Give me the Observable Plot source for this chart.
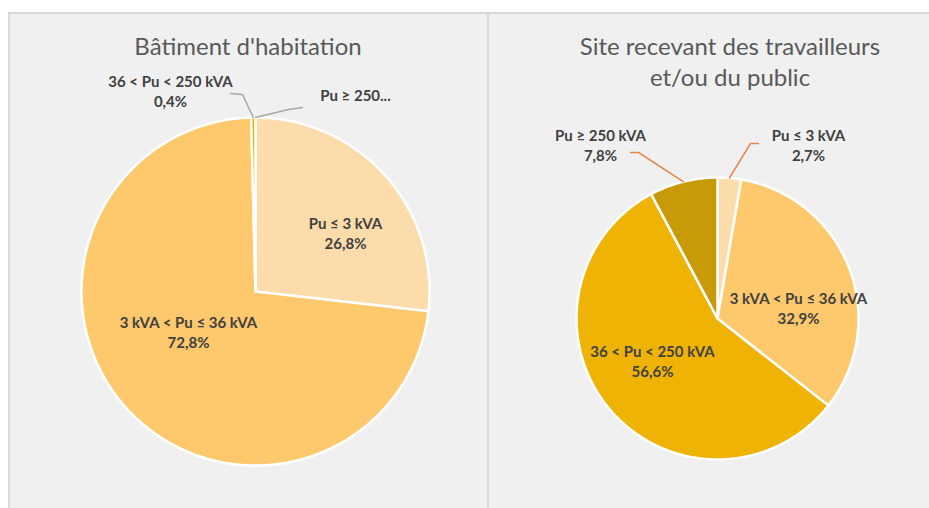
<!DOCTYPE html>
<html><head><meta charset="utf-8">
<script src="https://cdn.jsdelivr.net/npm/d3@7"></script>
<script src="https://cdn.jsdelivr.net/npm/@observablehq/plot@0.6"></script>
<style>
body{margin:0;background:#fff;width:929px;height:508px;overflow:hidden;position:relative;font-family:Lato,sans-serif}
.panel{position:absolute;top:12px;height:520px;background:#f0f0f0;border:2px solid #d9d9d9;box-sizing:border-box}
.title{position:absolute;text-align:center;color:#595959;font-size:24px;line-height:31px;white-space:nowrap;transform:translateX(-50%)}
#chart{position:absolute;left:0;top:0}
</style></head><body>
<div class="panel" style="left:8px;width:481px"></div>
<div class="panel" style="left:487px;width:480px"></div>
<div class="title" style="left:248px;top:30px">Bâtiment d'habitation</div>
<div class="title" style="left:730px;top:30px">Site recevant des travailleurs<br>et/ou du public</div>
<div id="chart"></div>
<script>
// ---- data ----
const categories = ["Pu ≤ 3 kVA", "3 kVA < Pu ≤ 36 kVA", "36 < Pu < 250 kVA", "Pu ≥ 250 kVA"];
const colors = ["#fddcab", "#fec86c", "#eeb305", "#c89a08"];
const habitationValues = [26.8, 72.8, 0.4, 0.0];
const travailleursValues = [2.7, 32.9, 56.6, 7.8];
const habitationLabels = ["Pu ≤ 3 kVA\n26,8%", "3 kVA < Pu ≤ 36 kVA\n72,8%", "36 < Pu < 250 kVA\n0,4%", "Pu ≥ 250..."];
const travailleursLabels = ["Pu ≤ 3 kVA\n2,7%", "3 kVA < Pu ≤ 36 kVA\n32,9%", "36 < Pu < 250 kVA\n56,6%", "Pu ≥ 250 kVA\n7,8%"];

// ---- layout ----
const W = 929, H = 508;
const pies = [
  {name: "hab", values: habitationValues, labels: habitationLabels, cx: 255, cy: 291, r: 174,
   labelPos: [[345, 232], [188, 331], [170, 90], [355, 94]],
   leaders: [null, null, [[242, 94], [230, 93]], [[288, 109], [302, 107]]],
   leaderColor: "#a6a6a6"},
  {name: "trav", values: travailleursValues, labels: travailleursLabels, cx: 717, cy: 318, r: 141,
   labelPos: [[808, 144], [798, 307], [652, 360], [600, 144]],
   leaders: [[[750, 143], [758, 143]], null, null, [[638, 152], [630, 152]]],
   leaderColor: "#e5884d"}
];

const wedges = [], leaderPts = [], texts = [];
for (const p of pies) {
  let cum = 0;
  p.values.forEach((v, i) => {
    const a0 = cum / 100 * 2 * Math.PI;
    cum += v;
    const a1 = cum / 100 * 2 * Math.PI;
    const key = p.name + i;
    const pt = a => ({key, cat: categories[i], x: p.cx + p.r * Math.sin(a), y: p.cy - p.r * Math.cos(a)});
    if (v > 0) {
      wedges.push({key, cat: categories[i], x: p.cx, y: p.cy});
      const n = Math.max(2, Math.ceil((a1 - a0) / 0.01));
      for (let k = 0; k <= n; k++) wedges.push(pt(a0 + (a1 - a0) * k / n));
      wedges.push({key, cat: categories[i], x: p.cx, y: p.cy});
    }
    if (p.leaders[i]) {
      const am = (a0 + a1) / 2;
      const lk = "L" + key;
      leaderPts.push({key: lk, c: p.leaderColor, x: p.cx + p.r * Math.sin(am), y: p.cy - p.r * Math.cos(am)});
      for (const [x, y] of p.leaders[i]) leaderPts.push({key: lk, c: p.leaderColor, x, y});
    }
    texts.push({x: p.labelPos[i][0], y: p.labelPos[i][1], text: p.labels[i]});
  });
}

const chart = Plot.plot({
  width: W, height: H, margin: 0,
  x: {domain: [0, W], range: [0, W], axis: null},
  y: {domain: [0, H], range: [0, H], axis: null},
  color: {domain: categories, range: colors},
  style: {background: "transparent", fontFamily: "Lato, sans-serif"},
  marks: [
    Plot.line(wedges, {x: "x", y: "y", z: "key", fill: "cat", stroke: "#ffffff", strokeWidth: 2.5, strokeLinejoin: "round"}),
    Plot.line(leaderPts, {x: "x", y: "y", z: "key", stroke: "c", strokeWidth: 1.5}),
    Plot.text(texts, {x: "x", y: "y", text: "text", fill: "#404040", fontSize: 15, fontWeight: "bold", lineHeight: 1.35})
  ]
});
document.getElementById("chart").appendChild(chart);
</script>
</body></html>
